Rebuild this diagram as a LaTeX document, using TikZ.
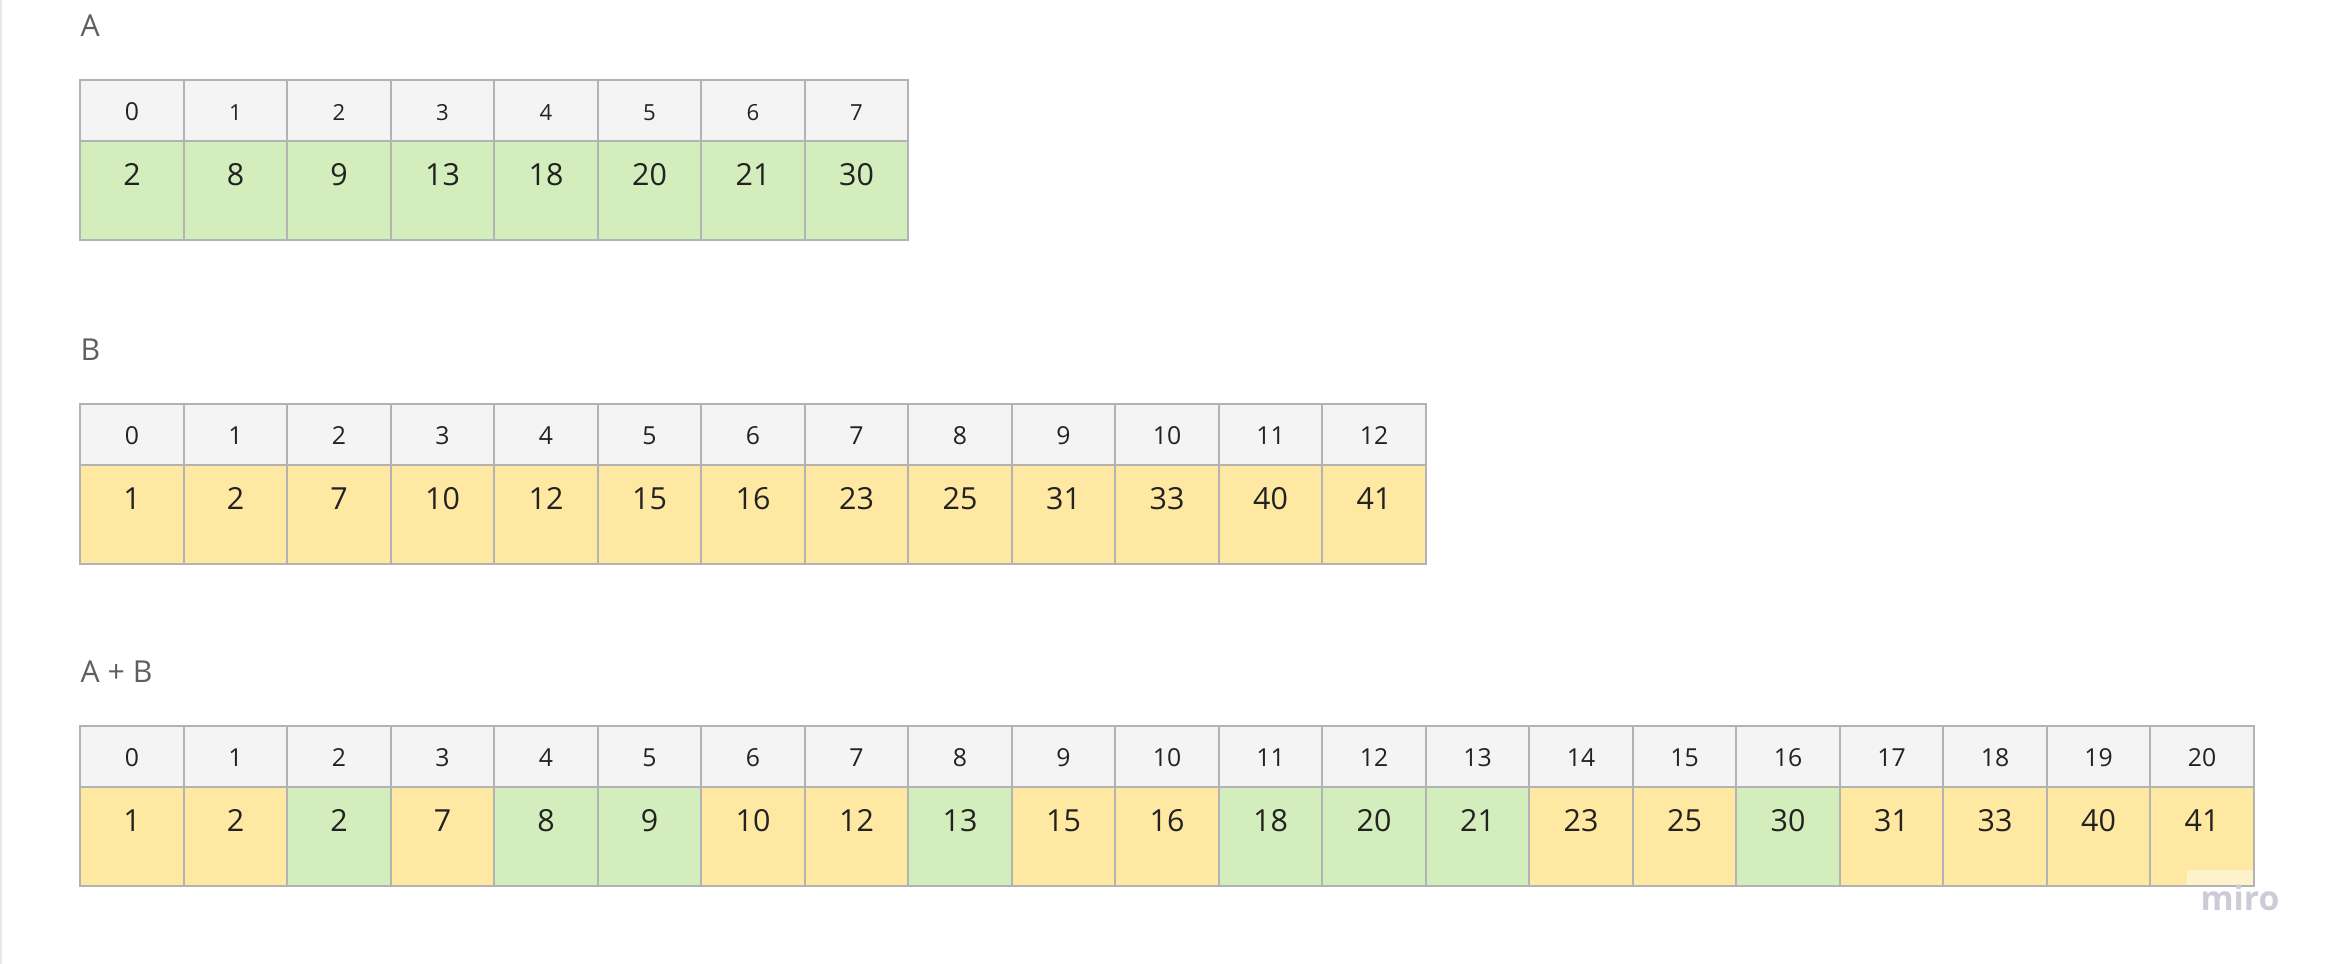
\documentclass[tikz,border=0pt]{standalone}
\usepackage{fontspec}
\setmainfont{Open Sans}
\usetikzlibrary{positioning}
\definecolor{cellborder}{HTML}{B3B3B3}
\definecolor{headfill}{HTML}{F4F4F4}
\definecolor{grn}{HTML}{D3EDBC}
\definecolor{ylw}{HTML}{FEE8A2}
\definecolor{numtext}{HTML}{222222}
\definecolor{titletext}{HTML}{5F5F5F}
\definecolor{mirotext}{HTML}{CCCCD8}
\definecolor{pageedge}{HTML}{E8E8E8}

\begin{document}
\begin{tikzpicture}[x=0.01cm,y=-0.01cm,
	cell/.style={draw=cellborder,line width=0.6pt,inner sep=0pt,outer sep=0pt,minimum width=1.035cm,text=numtext},
	head/.style={cell,fill=headfill,text height=0.405cm,text depth=0.205cm,font=\fontsize{7.05}{8}\selectfont},
	val/.style={cell,fill=#1,text height=0.445cm,text depth=0.54cm,font=\fontsize{8.65}{10}\selectfont},
	title/.style={anchor=base west,inner sep=0pt,text=titletext,font=\fontsize{8.6}{10}\selectfont}]
	% page
	\useasboundingbox (0,0) rectangle (2332,964);
	\draw[pageedge,line width=0.6pt] (1,0) -- (1,964);
	% array A
	\node[title] (labA) at (80,37) {A};
	\foreach \v/\fs [count=\i from 0] in {2/7.05,8/6.3,9/6.3,13/6.3,18/6.3,20/6.3,21/6.3,30/6.3} {
		\node[head,anchor=north,font=\fontsize{\fs}{8}\selectfont] (A-h\i) at ({132+103.5*\i},80) {\i};
		\node[val=grn,below=0pt of A-h\i] (A-v\i) {\v};
	}
	% array B
	\node[title] (labB) at (80,361) {B};
	\foreach \v [count=\i from 0] in {1,2,7,10,12,15,16,23,25,31,33,40,41} {
		\node[head,anchor=north] (B-h\i) at ({132+103.5*\i},404) {\i};
		\node[val=ylw,below=0pt of B-h\i] (B-v\i) {\v};
	}
	% merged A + B
	\node[title] (labC) at (80,683) {A + B};
	\foreach \v/\c [count=\i from 0] in {1/ylw,2/ylw,2/grn,7/ylw,8/grn,9/grn,10/ylw,12/ylw,13/grn,15/ylw,16/ylw,
		18/grn,20/grn,21/grn,23/ylw,25/ylw,30/grn,31/ylw,33/ylw,40/ylw,41/ylw} {
		\node[head,anchor=north] (C-h\i) at ({132+103.5*\i},726) {\i};
		\node[val=\c,below=0pt of C-h\i] (C-v\i) {\v};
	}
	% watermark
	\fill[white,opacity=0.45] (2187,870) rectangle (2253,885);
	\node[anchor=base,inner sep=0pt,text=mirotext,font=\bfseries\fontsize{9.6}{10}\selectfont] (miro) at (2240,910) {miro};
\end{tikzpicture}
\end{document}
